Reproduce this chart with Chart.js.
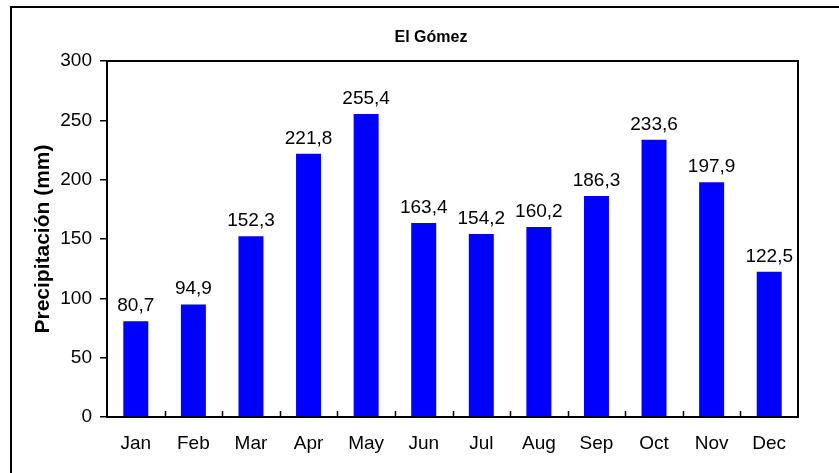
<!DOCTYPE html>
<html>
<head>
<meta charset="utf-8">
<script src="https://cdn.jsdelivr.net/npm/chart.js@4.4.0/dist/chart.umd.min.js"></script>
<style>
  html, body { margin: 0; padding: 0; background: #fff; }
  #wrap { width: 839px; height: 473px; }
</style>
</head>
<body>
<div id="wrap"><canvas id="grafico" width="839" height="473"></canvas></div>
<script>
// ---------- dati ----------
const mesi = ["Jan", "Feb", "Mar", "Apr", "May", "Jun", "Jul", "Aug", "Sep", "Oct", "Nov", "Dec"];
const precipitazione = [80.7, 94.9, 152.3, 221.8, 255.4, 163.4, 154.2, 160.2, 186.3, 233.6, 197.9, 122.5];
const titolo = "El Gómez";
const titoloAsseY = "Precipitación (mm)";
// ---------- dati ----------

const FONT = "Arial, 'Liberation Sans', sans-serif";

// cornice esterna + bordo area grafico + tacche asse x + etichette
const extra = {
  id: 'extra',
  afterDraw(chart) {
    const ctx = chart.ctx;
    const a = chart.chartArea;
    ctx.save();
    ctx.strokeStyle = '#000';
    // cornice (solo sinistra e sopra visibili)
    ctx.lineWidth = 2;
    ctx.beginPath();
    ctx.moveTo(11, 480);
    ctx.lineTo(11, 7);
    ctx.lineTo(850, 7);
    ctx.stroke();
    // bordo area grafico
    ctx.strokeRect(a.left, a.top, a.right - a.left, a.bottom - a.top);
    // tacche asse x verso l'interno, tra le categorie
    const w = (a.right - a.left) / mesi.length;
    ctx.lineWidth = 1.5;
    ctx.beginPath();
    for (let i = 1; i < mesi.length; i++) {
      const px = Math.round(a.left + i * w) + 0.5;
      ctx.moveTo(px, a.bottom);
      ctx.lineTo(px, a.bottom - 6);
    }
    ctx.stroke();
    // titolo
    ctx.fillStyle = '#000';
    ctx.font = 'bold 16px ' + FONT;
    ctx.textAlign = 'center';
    ctx.textBaseline = 'middle';
    ctx.fillText(titolo, 431, 38);
    // etichette dei valori
    ctx.font = '19px ' + FONT;
    ctx.textBaseline = 'alphabetic';
    const meta = chart.getDatasetMeta(0);
    meta.data.forEach((bar, i) => {
      const txt = precipitazione[i].toFixed(1).replace('.', ',');
      ctx.fillText(txt, bar.x, bar.y - 10);
    });
    ctx.restore();
  }
};

const ctx = document.getElementById('grafico').getContext('2d');
const chart = new Chart(ctx, {
  type: 'bar',
  data: {
    labels: mesi,
    datasets: [{
      data: precipitazione,
      backgroundColor: '#0000ff',
      borderWidth: 0,
      categoryPercentage: 1,
      barPercentage: 0.434
    }]
  },
  options: {
    responsive: false,
    animation: false,
    layout: { padding: { left: 31, top: 61, right: 41, bottom: 10 } },
    plugins: {
      legend: { display: false },
      title: { display: false },
      tooltip: { enabled: false }
    },
    scales: {
      x: {
        grid: { display: false },
        border: { color: '#000', width: 2 },
        ticks: { color: '#000', font: { family: FONT, size: 19 }, padding: 7 },
        afterFit(s) { s.height = 473 - 417 - 10; }
      },
      y: {
        min: 0,
        max: 300,
        ticks: { stepSize: 50, color: '#000', font: { family: FONT, size: 19 }, padding: 8 },
        grid: { drawOnChartArea: false, tickLength: 7, color: '#000', lineWidth: 1.5 },
        border: { color: '#000', width: 2 },
        title: {
          display: true,
          text: titoloAsseY,
          color: '#000',
          font: { family: FONT, size: 21, weight: 'bold' },
          padding: 0
        },
        afterFit(s) { s.width = 107 - 31; }
      }
    }
  },
  plugins: [extra]
});
</script>
</body>
</html>
